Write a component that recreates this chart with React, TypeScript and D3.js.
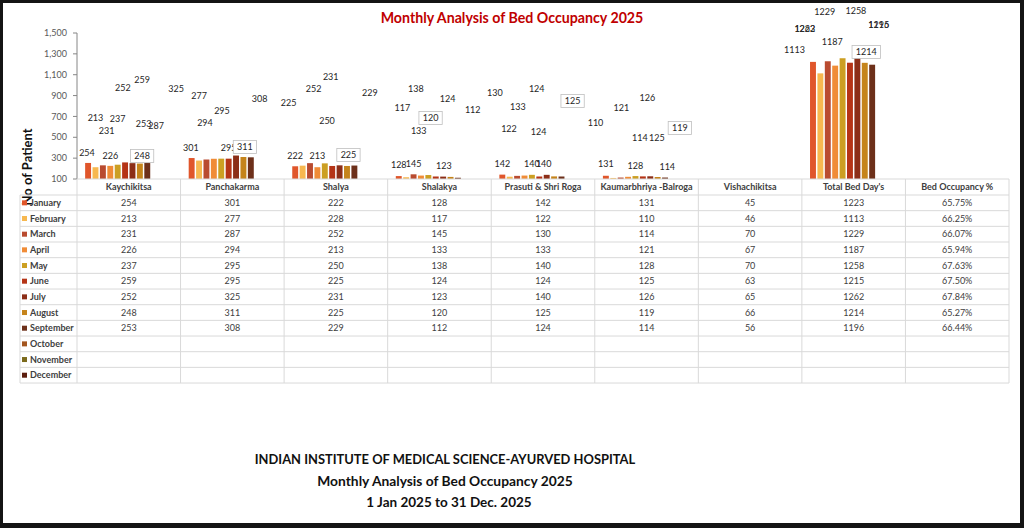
import * as d3 from 'd3';

// ---- data ----
const categories = [
  'Kaychikitsa',
  'Panchakarma',
  'Shalya',
  'Shalakya',
  'Prasuti & Shri Roga',
  'Kaumarbhriya -Balroga',
  'Vishachikitsa',
  "Total Bed Day's",
  'Bed Occupancy %',
];
const months = [
  'January', 'February', 'March', 'April', 'May', 'June',
  'July', 'August', 'September', 'October', 'November', 'December',
];

const kaychikitsa = [254, 213, 231, 226, 237, 259, 252, 248, 253];
const panchakarma = [301, 277, 287, 294, 295, 295, 325, 311, 308];
const shalya = [222, 228, 252, 213, 250, 225, 231, 225, 229];
const shalakya = [128, 117, 145, 133, 138, 124, 123, 120, 112];
const prasuti = [142, 122, 130, 133, 140, 124, 140, 125, 124];
const kaumarbhriya = [131, 110, 114, 121, 128, 125, 126, 119, 114];
const vishachikitsa = [45, 46, 70, 67, 70, 63, 65, 66, 56];
const totalBedDays = [1223, 1113, 1229, 1187, 1258, 1215, 1262, 1214, 1196];
const occupancy = [65.75, 66.25, 66.07, 65.94, 67.63, 67.5, 67.84, 65.27, 66.44];

const yTicks = [100, 300, 500, 700, 900, 1100, 1300, 1500];

const monthColors = [
  '#e0562b', '#f7b850', '#b94b30', '#f08c37', '#cc9f22', '#b53416',
  '#8c2e17', '#c5841b', '#6d301a', '#a3561f', '#7b6a1c', '#5b1d0e',
];

// data labels were dragged around in the source workbook:
// [shift in bar slots, level in axis units] per month, null = hidden
type Spot = [number, number] | null;
const kaychikitsaSpots: Spot[] = [[-0.15, 349], [0, 685], [0.5, 560], [0, 321], [0, 675], [2.3, 1049], [-1.3, 973], [0.3, 321], [-0.5, 627]];
const panchakarmaSpots: Spot[] = [[-0.1, 397], [0, 896], [-6.8, 608], [-1.2, 637], [0.1, 752], [0, 397], [-8.1, 963], [0.2, 407], [1.2, 867]];
const shalyaSpots: Spot[] = [[0, 321], null, [0.5, 963], [0, 321], [0.3, 656], [-5.9, 829], [-1.2, 1078], [0.2, 330], [2.1, 925]];
const shalakyaSpots: Spot[] = [[0, 234], [-0.5, 781], [0, 244], [-0.3, 560], [-1.7, 963], [1.6, 867], [0.1, 225], [-2.7, 685], [2, 762]];
const prasutiSpots: Spot[] = [[0, 244], [-0.1, 580], [-3, 925], [-0.9, 790], [0, 244], [-0.35, 963], [-0.4, 244], [2.5, 848], [-3.1, 551]];
const kaumarbhriyaSpots: Spot[] = [[0, 244], [-2.4, 637], [2.6, 493], [-0.9, 781], [0, 225], [1.9, 493], [-0.4, 877], [3, 589], [0.3, 215]];
const totalSpots: Spot[] = [[-1.1, 1538], [-3.5, 1337], [-0.4, 1701], [-0.4, 1414], [1.8, 1711], [3.9, 1577], [-7.1, 1538], [0.2, 1318], [0.9, 1577]];
const boxedMonth = 7; // August labels carry a border

const seriesByCategory = [
  kaychikitsa, panchakarma, shalya, shalakya, prasuti,
  kaumarbhriya, vishachikitsa, totalBedDays, occupancy,
];
const spotsByCategory: (Spot[] | null)[] = [
  kaychikitsaSpots, panchakarmaSpots, shalyaSpots, shalakyaSpots, prasutiSpots,
  kaumarbhriyaSpots, null, totalSpots, null,
];

const W = 1024;
const H = 528;
const font = 'Lato, "Open Sans", sans-serif';
const textColor = '#404040';

export default function App() {
  const plotLeft = 77;
  const plotRight = 1009;
  const plotTop = 33;
  const plotBottom = 179;
  const headerH = 16;
  const rowH = 15.67;
  const tableLeft = 20;

  const x = d3.scaleBand<string>().domain(categories).range([plotLeft, plotRight]);
  const slot = d3
    .scaleBand<string>()
    .domain(months)
    .range([0, x.bandwidth()])
    .paddingOuter(1);
  const y = d3.scaleLinear().domain([100, 1500]).range([plotBottom, plotTop]);
  const fmtTick = d3.format(',');

  const rowY = (i: number) => plotBottom + headerH + i * rowH;
  const tableBottom = rowY(months.length);
  const step = slot.step();
  const barW = step * 0.8;

  const cellText = (ci: number, mi: number) => {
    const v = seriesByCategory[ci][mi];
    if (v === undefined) return '';
    return ci === 8 ? `${v.toFixed(2)}%` : String(v);
  };

  return (
    <svg
      width={W}
      height={H}
      style={{ position: 'absolute', left: 0, top: 0 }}
      fontFamily={font}
    >
      <defs>
        <filter id="smear" x="-20%" y="-200%" width="140%" height="500%">
          <feGaussianBlur stdDeviation="1.3 1" />
        </filter>
        <clipPath id="frame">
          <rect x={3} y={3} width={W - 7} height={H - 8} />
        </clipPath>
      </defs>
      <rect width={W} height={H} fill="#141414" />
      <rect x={3} y={3} width={W - 7} height={H - 8} fill="#fff" />

      <g clipPath="url(#frame)">
        <text
          x={512}
          y={23}
          textAnchor="middle"
          fontWeight="bold"
          fontSize={14.2}
          fill="#c00000"
        >
          Monthly Analysis of Bed Occupancy 2025
        </text>

        {/* y axis */}
        <line x1={plotLeft} x2={plotLeft} y1={plotTop} y2={plotBottom} stroke="#868686" />
        {yTicks.map((t) => (
          <g key={t} transform={`translate(0,${y(t)})`}>
            <line x1={plotLeft - 4} x2={plotLeft} stroke="#868686" />
            <text
              x={plotLeft - 10}
              dy="0.35em"
              textAnchor="end"
              fontSize={9}
              fill="#595959"
            >
              {fmtTick(t)}
            </text>
          </g>
        ))}
        <text
          transform={`translate(32,167) rotate(-90)`}
          textAnchor="middle"
          fontWeight="bold"
          fontSize={13}
          fill="#111"
        >
          No of Patient
        </text>

        {/* bars */}
        {categories.map((c, ci) =>
          seriesByCategory[ci].map((v, mi) => {
            if (v <= 100) return null;
            const cx = (x(c) ?? 0) + (slot(months[mi]) ?? 0) + step / 2;
            return (
              <rect
                key={`${c}-${mi}`}
                x={cx - barW / 2}
                y={y(v)}
                width={barW}
                height={plotBottom - y(v)}
                fill={monthColors[mi]}
              />
            );
          }),
        )}

        {/* data labels */}
        {categories.map((c, ci) => {
          const spots = spotsByCategory[ci];
          if (!spots) return null;
          return seriesByCategory[ci].map((v, mi) => {
            const s = spots[mi];
            if (!s) return null;
            const cx = (x(c) ?? 0) + (slot(months[mi]) ?? 0) + step / 2 + s[0] * step;
            const cy = y(s[1]);
            const label = String(v);
            const tw = label.length * 5.1;
            return (
              <g key={`l-${c}-${mi}`}>
                {mi === boxedMonth && (
                  <rect
                    x={cx - tw / 2 - 4}
                    y={cy - 6.5}
                    width={tw + 8}
                    height={13}
                    fill="#fff"
                    stroke="#bfbfbf"
                    strokeWidth={0.8}
                  />
                )}
                <text
                  x={cx}
                  y={cy}
                  dy="0.35em"
                  textAnchor="middle"
                  fontSize={9}
                  fill="#262626"
                >
                  {label}
                </text>
              </g>
            );
          });
        })}

        {/* data table */}
        <g stroke="#d9d9d9" strokeWidth={1}>
          <line x1={plotLeft} x2={plotRight} y1={plotBottom} y2={plotBottom} />
          {d3.range(months.length + 1).map((i) => (
            <line key={`h${i}`} x1={tableLeft} x2={plotRight} y1={rowY(i)} y2={rowY(i)} />
          ))}
          <line x1={tableLeft} x2={tableLeft} y1={rowY(0)} y2={tableBottom} />
          {categories.map((c) => (
            <line key={`v${c}`} x1={x(c)} x2={x(c)} y1={plotBottom} y2={tableBottom} />
          ))}
          <line x1={plotRight} x2={plotRight} y1={plotBottom} y2={tableBottom} />
        </g>

        {categories.map((c) => (
          <text
            key={`hd-${c}`}
            x={(x(c) ?? 0) + x.bandwidth() / 2}
            y={plotBottom + headerH / 2}
            dy="0.35em"
            textAnchor="middle"
            fontSize={9}
            fontWeight="bold"
            fill={textColor}
          >
            {c}
          </text>
        ))}

        {months.map((m, mi) => (
          <g key={`row-${m}`} transform={`translate(0,${rowY(mi) + rowH / 2})`}>
            <rect x={tableLeft + 2} y={-2.5} width={5} height={5} fill={monthColors[mi]} />
            <text x={tableLeft + 10} dy="0.35em" fontSize={9} fontWeight="bold" fill={textColor}>
              {m}
            </text>
            {categories.map((c, ci) => (
              <text
                key={`${m}-${c}`}
                x={(x(c) ?? 0) + x.bandwidth() / 2}
                dy="0.35em"
                textAnchor="middle"
                fontSize={9}
                fill={textColor}
              >
                {cellText(ci, mi)}
              </text>
            ))}
            {/* redaction smear in the source image */}
            <line
              x1={(x(categories[4]) ?? 0) - 9}
              x2={(x(categories[4]) ?? 0) + (mi > 8 ? 53 : 45)}
              y1={5}
              y2={5}
              stroke="#8f8f8f"
              strokeWidth={2.4}
              filter="url(#smear)"
            />
          </g>
        ))}

        <g textAnchor="middle" fontWeight="bold" fill="#111">
          <text x={445} y={464} fontSize={12.9}>INDIAN INSTITUTE OF MEDICAL SCIENCE-AYURVED HOSPITAL</text>
          <text x={445} y={486} fontSize={13.8}>Monthly Analysis of Bed Occupancy 2025</text>
          <text x={449} y={507} fontSize={13.5}>1 Jan 2025 to 31 Dec. 2025</text>
        </g>
      </g>
    </svg>
  );
}
